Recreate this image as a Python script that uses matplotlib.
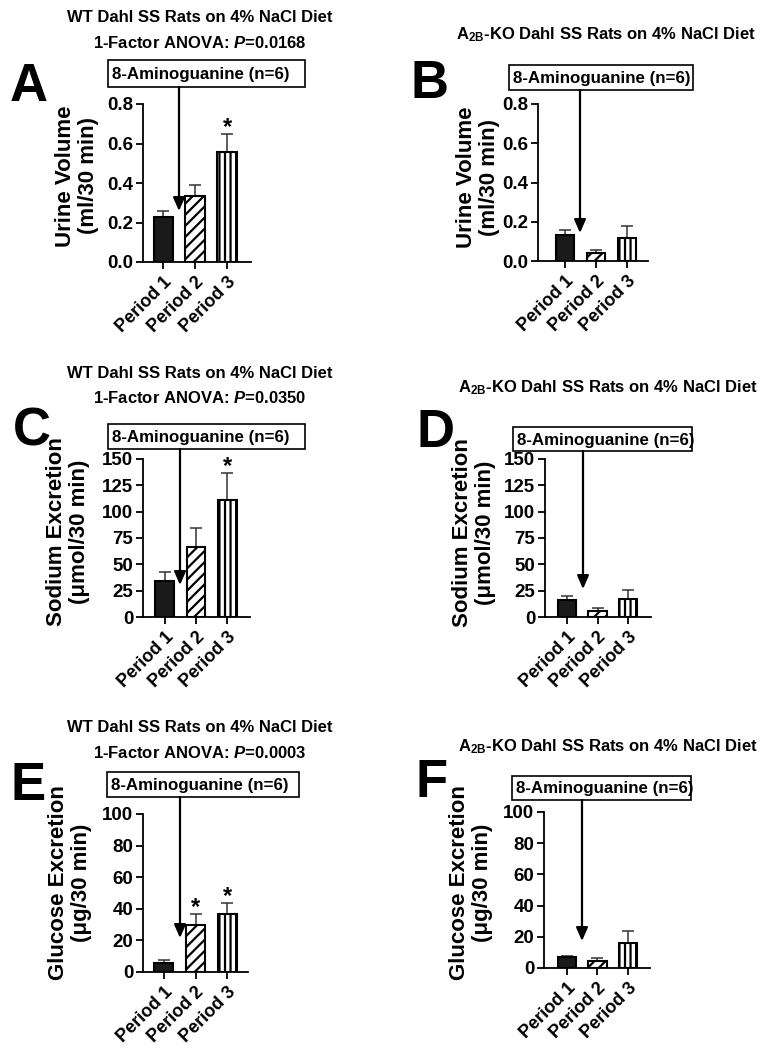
import matplotlib
matplotlib.use('Agg')
import matplotlib.pyplot as plt
from matplotlib.patches import Rectangle, FancyArrowPatch
import numpy as np

plt.rcParams['font.family'] = ['Liberation Sans', 'DejaVu Sans']
plt.rcParams['font.weight'] = 'bold'
plt.rcParams['mathtext.fontset'] = 'custom'
plt.rcParams['mathtext.rm'] = 'Liberation Sans:bold'
plt.rcParams['mathtext.it'] = 'Liberation Sans:italic:bold'
plt.rcParams['mathtext.bf'] = 'Liberation Sans:bold'
plt.rcParams['mathtext.default'] = 'rm'
plt.rcParams['hatch.linewidth'] = 1.6

# data (mean + SEM)
periods = ['Period 1', 'Period 2', 'Period 3']

urine_wt = [0.23, 0.335, 0.558]
urine_wt_err = [0.027, 0.054, 0.09]
urine_ko = [0.131, 0.043, 0.119]
urine_ko_err = [0.029, 0.015, 0.06]

sodium_wt = [34.3, 66.7, 111.2]
sodium_wt_err = [8.3, 18.1, 25.7]
sodium_ko = [16.5, 5.7, 17.5]
sodium_ko_err = [3.8, 3.2, 7.9]

glucose_wt = [5.7, 29.6, 37.0]
glucose_wt_err = [2.1, 7.2, 6.8]
glucose_ko = [7.0, 4.3, 16.0]
glucose_ko_err = [0.9, 2.1, 7.4]

stars_urine_wt = [False, False, True]
stars_sodium_wt = [False, False, True]
stars_glucose_wt = [False, True, True]
no_stars = [False, False, False]

wt_title = 'WT Dahl SS Rats on 4% NaCl Diet'
ko_title = 'A$_{2B}$-KO Dahl SS Rats on 4% NaCl Diet'
anova_p = ['0.0168', '0.0350', '0.0003']
treatment = '8-Aminoguanine (n=6)'

urine_label = 'Urine Volume\n(ml/30 min)'
sodium_label = 'Sodium Excretion\n(\u03bcmol/30 min)'
glucose_label = 'Glucose Excretion\n(\u03bcg/30 min)'

urine_ticks = [0.0, 0.2, 0.4, 0.6, 0.8]
sodium_ticks = [0, 25, 50, 75, 100, 125, 150]
glucose_ticks = [0, 20, 40, 60, 80, 100]

W, H = 770, 1050
fig = plt.figure(figsize=(7.7, 10.5), dpi=100)


def fx(x):
    return x / W


def fy(y):
    return 1 - y / H


def panel(letter, rect, xlim, vals, errs, stars, ticks, tickfmt, ylabel,
          ylab_pos, box, arrow_x, tip_y, letter_pos, titles):
    l, t, r, b = rect
    ax = fig.add_axes([fx(l), fy(b), (r - l) / W, (b - t) / H])
    x = np.arange(len(periods))
    bars = ax.bar(x, vals, width=0.6, color=['#1a1a1a', 'white', 'white'],
                  edgecolor='black', linewidth=1.5, zorder=3)
    for p, h in zip(bars, [None, '///', '|||']):
        if h:
            p.set_hatch(h)
    ax.errorbar(x, vals, yerr=[np.zeros(len(vals)), errs], fmt='none',
                ecolor='#333333', elinewidth=1.1, capsize=4.5, capthick=1.1,
                zorder=2)
    for i, s in enumerate(stars):
        if s:
            ax.annotate('*', (x[i], vals[i] + errs[i]), xytext=(0, 0),
                        textcoords='offset points', ha='center',
                        va='baseline', fontsize=17, fontweight='bold')
    ax.set_xlim(*xlim)
    ax.set_ylim(ticks[0], ticks[-1])
    ax.set_yticks(ticks, [tickfmt.format(v) for v in ticks], fontsize=13.5)
    ax.set_xticks(x, periods, rotation=45, ha='right',
                  rotation_mode='anchor', fontsize=13)
    for s in ['top', 'right']:
        ax.spines[s].set_visible(False)
    for s in ['left', 'bottom']:
        ax.spines[s].set_linewidth(1.3)
    ax.tick_params(axis='both', direction='out', length=5, width=1.3, pad=2)
    ax.tick_params(axis='x', pad=3)

    fig.text(fx(ylab_pos[0]), fy(ylab_pos[1]), ylabel, rotation=90,
             ha='center', va='center', ma='center', fontsize=16,
             fontweight='bold', linespacing=1.15)

    bl, bt, br, bb = box
    fig.add_artist(Rectangle((fx(bl), fy(bb)), (br - bl) / W, (bb - bt) / H,
                             transform=fig.transFigure, fill=False,
                             edgecolor='black', linewidth=1.2))
    fig.text(fx(bl + 4), fy((bt + bb) / 2 + 1), treatment, ha='left',
             va='center', fontsize=12.2, fontweight='bold')
    fig.add_artist(FancyArrowPatch((fx(arrow_x), fy(bb)), (fx(arrow_x), fy(tip_y)),
                                   transform=fig.transFigure,
                                   arrowstyle='-|>,head_length=0.8,head_width=0.35',
                                   mutation_scale=10, linewidth=1.6,
                                   color='black', shrinkA=0, shrinkB=0))

    fig.text(fx(letter_pos[0]), fy(letter_pos[1]), letter, ha='left',
             va='baseline', fontsize=38, fontweight='bold')
    for txt, (cx, cy) in titles:
        fig.text(fx(cx), fy(cy), txt, ha='center', va='center',
                 fontsize=12, fontweight='bold')
    return ax


panel('A', (143, 104, 251, 262), (-0.63, 2.75), urine_wt, urine_wt_err,
      stars_urine_wt, urine_ticks, '{:.1f}', urine_label, (77, 176),
      (108, 60, 305, 87), 179, 211, (10, 101),
      [(wt_title, (200, 17)),
       ('1-Factor ANOVA: $\\mathit{P}$=' + anova_p[0], (200, 43))])

panel('B', (538, 104, 648, 261), (-0.87, 2.68), urine_ko, urine_ko_err,
      no_stars, urine_ticks, '{:.1f}', urine_label, (478, 177),
      (509, 65, 693, 90), 580, 233, (411, 98),
      [(ko_title, (606, 35))])

panel('C', (143, 459, 250, 617), (-0.69, 2.72), sodium_wt, sodium_wt_err,
      stars_sodium_wt, sodium_ticks, '{:d}', sodium_label, (68, 532),
      (108, 424, 305, 449), 180, 585, (13, 445),
      [(wt_title, (200, 373)),
       ('1-Factor ANOVA: $\\mathit{P}$=' + anova_p[1], (200, 398))])

panel('D', (545, 459, 651, 617), (-0.71, 2.74), sodium_ko, sodium_ko_err,
      no_stars, sodium_ticks, '{:d}', sodium_label, (474, 533),
      (513, 427, 692, 451), 583, 589, (417, 447),
      [(ko_title, (608, 388))])

panel('E', (143, 814, 248, 972), (-0.66, 2.66), glucose_wt, glucose_wt_err,
      stars_glucose_wt, glucose_ticks, '{:d}', glucose_label, (70, 883),
      (107, 772, 299, 797), 180, 938, (10, 800),
      [(wt_title, (200, 727)),
       ('1-Factor ANOVA: $\\mathit{P}$=' + anova_p[2], (200, 753))])

panel('F', (544, 812, 650, 968), (-0.74, 2.71), glucose_ko, glucose_ko_err,
      no_stars, glucose_ticks, '{:d}', glucose_label, (471, 883),
      (512, 776, 691, 800), 582, 941, (416, 797),
      [(ko_title, (608, 747))])

fig.savefig('out.png', dpi=100)
